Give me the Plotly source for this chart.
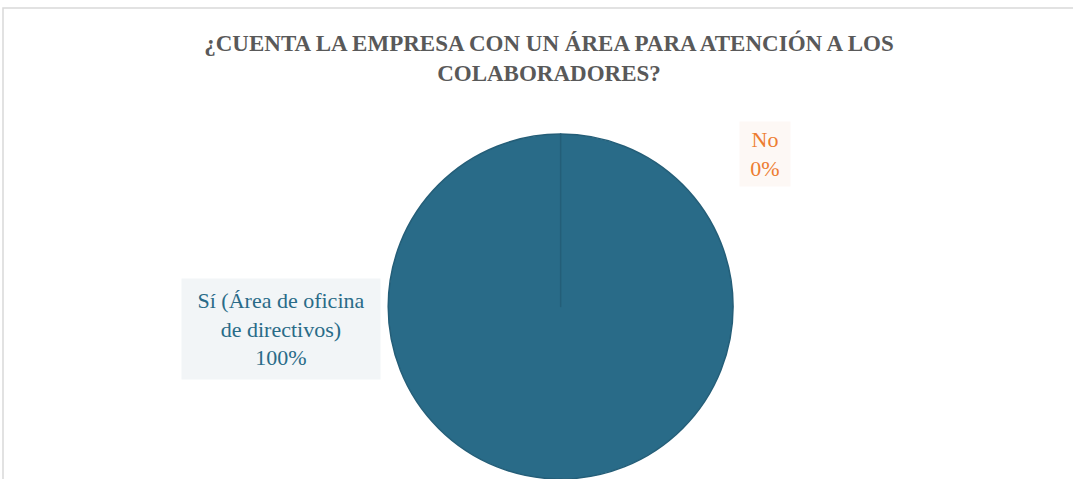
import plotly.graph_objects as go

# Data
categories = ["Sí (Área de oficina de directivos)", "No"]
values = [100, 0]
slice_colors = ["#296B88", "#ED7D31"]
title_text = "¿CUENTA LA EMPRESA CON UN ÁREA PARA ATENCIÓN A LOS<br>COLABORADORES?"

total = sum(values)
pcts = [round(v / total * 100) for v in values]

fig = go.Figure()
fig.add_trace(go.Pie(
    labels=categories,
    values=values,
    sort=False,
    direction="clockwise",
    rotation=0,
    marker=dict(colors=slice_colors, line=dict(color="#245E78", width=1.5)),
    textinfo="none",
    hoverinfo="label+percent",
    showlegend=False,
    domain=dict(x=[0.355, 0.69], y=[0.0, 0.72]),
))

serif = "Liberation Serif"

# Data labels
label_si = "Sí (Área de oficina<br>de directivos)<br>" + f"{pcts[0]}%"
label_no = f"{categories[1]}<br>{pcts[1]}%"

fig.add_annotation(
    x=281 / 1073, y=1 - 329 / 479, xref="paper", yref="paper",
    xanchor="center", yanchor="middle",
    text=label_si, showarrow=False,
    font=dict(family=serif, size=22, color="#296B88"),
    bgcolor="rgba(242,245,247,0.97)", borderpad=9, width=180,
    align="center",
)
fig.add_annotation(
    x=765 / 1073, y=1 - 154 / 479, xref="paper", yref="paper",
    xanchor="center", yanchor="middle",
    text=label_no, showarrow=False,
    font=dict(family=serif, size=22, color="#ED7D31"),
    bgcolor="rgba(253,248,245,0.97)", borderpad=5, width=40,
    align="center",
)

# Outer chart frame
fig.add_shape(type="rect", xref="paper", yref="paper",
              x0=3 / 1073, y0=-0.05, x1=1.05, y1=1 - 8 / 479,
              line=dict(color="#D9D9D9", width=1.5), fillcolor="rgba(0,0,0,0)")

fig.update_layout(
    width=1073, height=479,
    margin=dict(l=0, r=0, t=0, b=0),
    paper_bgcolor="white",
    plot_bgcolor="white",
    title=dict(
        text=title_text,
        x=549 / 1073, xanchor="center",
        y=1 - 51 / 479, yanchor="middle",
        font=dict(family=serif, size=23, color="#595959", weight="bold"),
    ),
)

fig.write_html("out.html")
